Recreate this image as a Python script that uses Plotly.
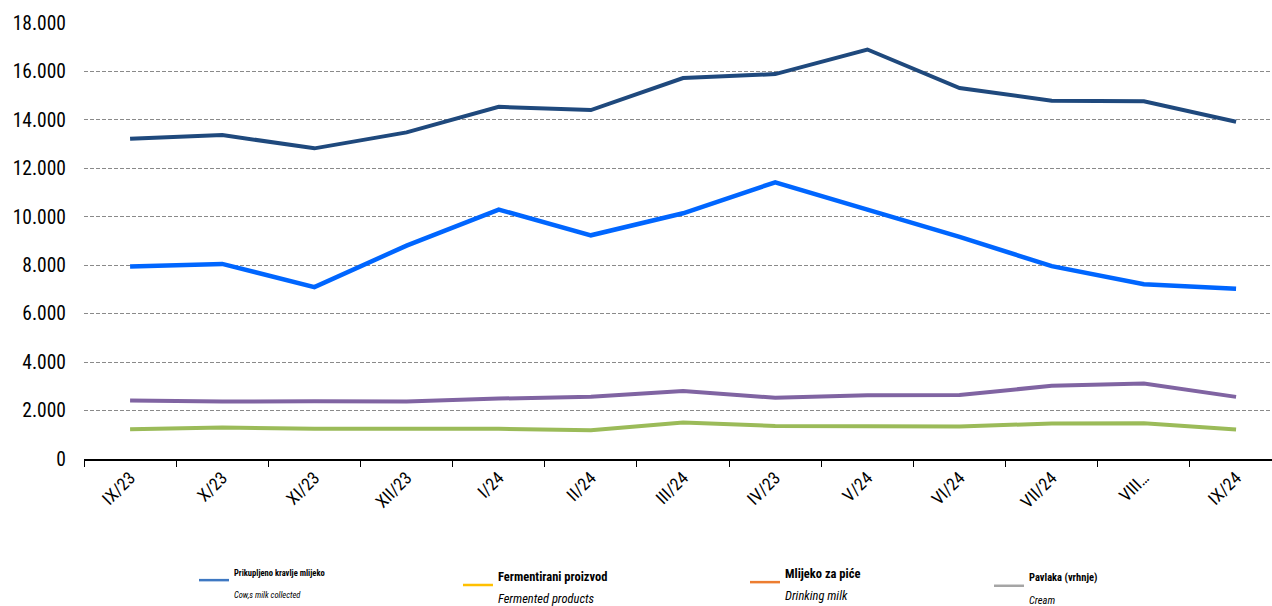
import plotly.graph_objects as go

categories = ["IX/23", "X/23", "XI/23", "XII/23", "I/24", "II/24", "III/24",
              "IV/23", "V/24", "VI/24", "VII/24", "VIII…", "IX/24"]

collected_total = [13220, 13375, 12825, 13485, 14540, 14405, 15725,
                   15890, 16905, 15315, 14790, 14765, 13925]
processed_milk = [7945, 8055, 7095, 8810, 10295, 9235, 10145,
                  11425, 10295, 9170, 7960, 7215, 7025]
cream_series = [2415, 2370, 2385, 2370, 2495, 2565, 2810,
                2525, 2635, 2645, 3020, 3115, 2565]
fermented_series = [1230, 1300, 1245, 1255, 1245, 1190, 1505,
                    1365, 1355, 1340, 1465, 1475, 1215]

y_ticks = [0, 2000, 4000, 6000, 8000, 10000, 12000, 14000, 16000, 18000]

legend_bold = ["Prikupljeno kravlje mlijeko", "Fermentirani proizvod",
               "Mlijeko za piće", "Pavlaka (vrhnje)"]
legend_italic = ["Cow,s milk collected", "Fermented products",
                 "Drinking milk", "Cream"]
legend_colors = ["#3E78C2", "#FFC000", "#ED7D31", "#A5A5A5"]
legend_text_sizes = [8.5, 12.5, 12.5, 10.5]

COND = "Roboto Condensed, Liberation Sans, Arial, sans-serif"

fig = go.Figure()
line_specs = [
    (collected_total, "#1F497D", 4),
    (processed_milk, "#0066FF", 4.5),
    (cream_series, "#8064A2", 4),
    (fermented_series, "#9BBB59", 4),
]
for vals, col, w in line_specs:
    fig.add_trace(go.Scatter(x=categories, y=vals, mode="lines",
                             line=dict(color=col, width=w),
                             showlegend=False, hoverinfo="skip"))

legend_keys = ["legend", "legend2", "legend3", "legend4"]
for b, it, col, sz, lk in zip(legend_bold, legend_italic, legend_colors,
                              legend_text_sizes, legend_keys):
    name = (f"<span style='font-size:{sz}px'><b>{b}</b></span><br>"
            f"<span style='font-size:{sz}px'><i>{it}</i></span>")
    fig.add_trace(go.Scatter(x=[None], y=[None], mode="lines", name=name,
                             line=dict(color=col, width=2.5),
                             legend=lk, showlegend=True, hoverinfo="skip"))

def leg(x, y, fs):
    return dict(x=x, y=y, xanchor="left", yanchor="middle",
                font=dict(family=COND, size=fs, color="#000000"),
                bgcolor="rgba(0,0,0,0)", itemwidth=30)

fig.update_layout(
    width=1272, height=606,
    margin=dict(l=84, r=0, t=23, b=146.5, autoexpand=False),
    paper_bgcolor="white", plot_bgcolor="white",
    separators=",.",
    font=dict(family=COND, color="#000000"),
    legend=leg(0.0926, -0.2784, 17.5),
    legend2=leg(0.3148, -0.2898, 17.5),
    legend3=leg(0.5564, -0.2830, 17.5),
    legend4=leg(0.7618, -0.2910, 18),
)

fig.update_xaxes(
    type="category", categoryorder="array", categoryarray=categories,
    range=[-0.5, 12.39], automargin=False,
    showline=True, linecolor="#000000", linewidth=1.5,
    ticks="outside", ticklen=6, tickcolor="#000000", tickwidth=1,
    tickson="boundaries", tickangle=-45,
    tickfont=dict(family=COND, size=17.5, color="#000000"),
    showgrid=False, zeroline=False,
)
fig.update_yaxes(
    range=[0, 18000], tickvals=y_ticks, tickformat=",d", automargin=False,
    showline=False, zeroline=False,
    showgrid=True, gridcolor="#8A8A8A", gridwidth=1.3, griddash="4px,2px",
    tickfont=dict(family=COND, size=19.5, color="#000000"),
    ticklabelstandoff=17,
)

fig.write_html("out.html",
               config={"displayModeBar": False},
               post_script="document.body.style.margin='0';"
                           "document.body.style.overflow='hidden';")
